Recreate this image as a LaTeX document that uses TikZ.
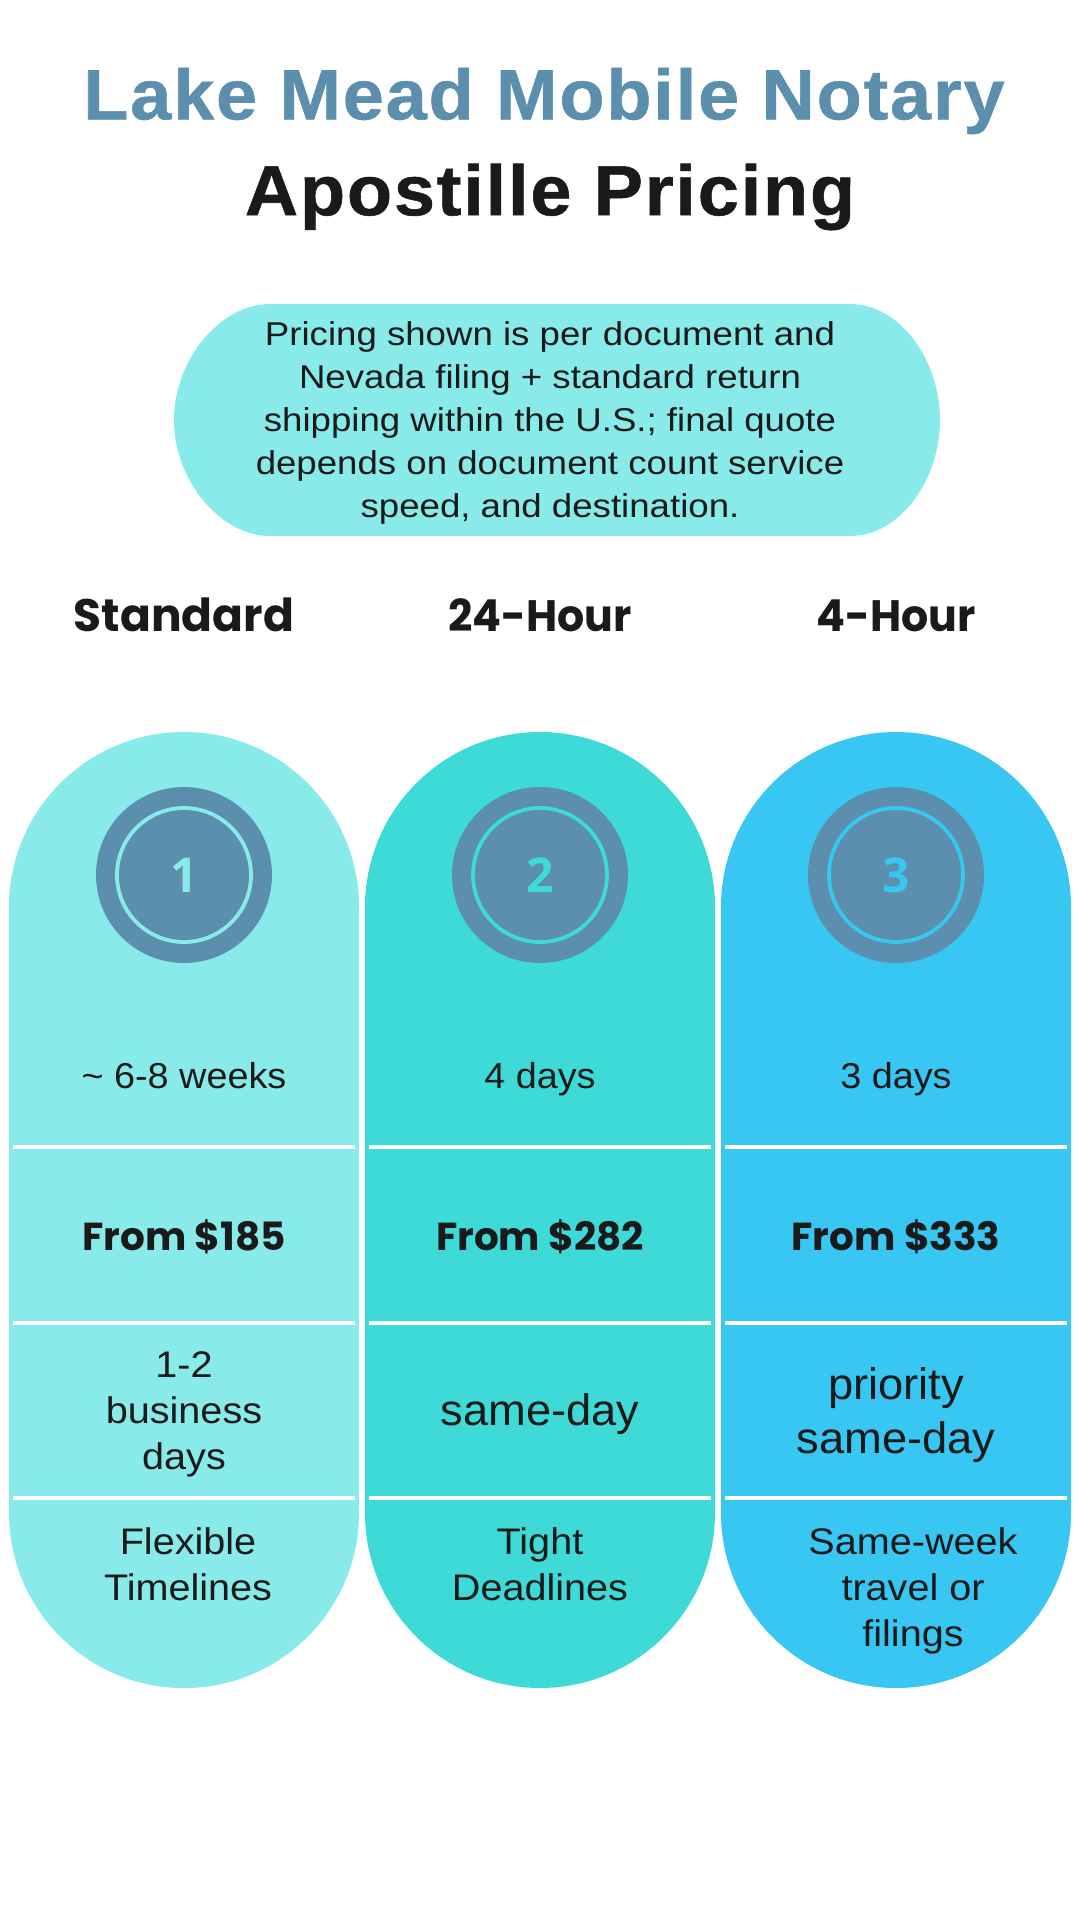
\documentclass[tikz,border=0pt]{standalone}
\usepackage{fontspec}
\setmainfont{Liberation Sans}
\newfontfamily\numfont[BoldFont=*-Bold]{Open Sans}
\newfontfamily\titlefont[LetterSpace=2.6,FakeStretch=1.04,BoldFeatures={FakeBold=0.8}]{Liberation Sans}
\newfontfamily\popbold{Poppins}[UprightFont=*-Bold]
\newfontfamily\popboldn{Poppins}[UprightFont=*-Bold,FakeStretch=0.97]
\newfontfamily\bodyfont[FakeStretch=1.07]{Liberation Sans}
\newfontfamily\singlefont[FakeStretch=1.05]{Liberation Sans}
\newfontfamily\bigfont[FakeStretch=1.03]{Liberation Sans}
\newfontfamily\notefont[FakeStretch=1.11]{Liberation Sans}
\definecolor{inkc}{HTML}{1A1A1A}
\definecolor{slatec}{HTML}{5C8EAD}
\definecolor{palec}{HTML}{88EBE9}
\definecolor{tealc}{HTML}{3DDAD8}
\definecolor{skyc}{HTML}{38C6F2}
\tikzset{
  x=1pt,y=-1pt,
  titletext/.style={font=\titlefont\bfseries\fontsize{71}{71}\selectfont,inner sep=0pt,anchor=center},
  headtext/.style={font=\popbold\fontsize{45.5}{46}\selectfont,text=inkc,inner sep=0pt,anchor=base},
  headtextn/.style={font=\popboldn\fontsize{44}{46}\selectfont,text=inkc,inner sep=0pt,anchor=base},
  pricetext/.style={font=\popbold\fontsize{39}{40}\selectfont,text=inkc,inner sep=0pt,anchor=base},
  bodytext/.style={font=\bodyfont\fontsize{37}{46}\selectfont,text=inkc,inner sep=0pt,align=center},
  singletext/.style={font=\singlefont\fontsize{36}{46}\selectfont,text=inkc,inner sep=0pt,anchor=base},
  bigtext/.style={font=\bigfont\fontsize{44}{54}\selectfont,text=inkc,inner sep=0pt,align=center},
  callouttext/.style={font=\notefont\fontsize{33}{43}\selectfont,text=inkc,inner sep=0pt,align=center},
  rowline/.style={white,line width=4.5pt},
  badgeouter/.style={circle,fill=slatec,minimum size=176pt,inner sep=0pt},
  badgering/.style={circle,fill=slatec,draw=#1,line width=3.8pt,minimum size=134pt,inner sep=0pt,
    font=\numfont\bfseries\fontsize{48}{48}\selectfont,text=#1},
}
\newcommand{\pillpath}[2]{% x-left, colour
  \fill[#2] (#1,907) arc[start angle=180,end angle=360,radius=175] -- ++(0,606) arc[start angle=0,end angle=180,radius=175] -- cycle;
}
\begin{document}
\begin{tikzpicture}
\useasboundingbox (0,0) rectangle (1080,1920);
\fill[white] (0,0) rectangle (1080,1920);
\node[titletext,text=slatec] (t1) at (544,101) {Lake Mead Mobile Notary};
\node[titletext,text=inkc] (t2) at (550,197) {Apostille Pricing};
\fill[palec] (270,304) -- (850,304)
  .. controls (900,304) and (940,360) .. (940,420)
  .. controls (940,480) and (900,536) .. (850,536)
  -- (270,536)
  .. controls (220,536) and (174,480) .. (174,420)
  .. controls (174,360) and (220,304) .. (270,304) -- cycle;
\node[callouttext] (note) at (550,423) {Pricing shown is per document and\\Nevada filing + standard return\\shipping within the U.S.; final quote\\depends on document count service\\speed, and destination.};
\node[headtext] (h1) at (184,631) {Standard};
\node[headtextn] (h2) at (540,631) {24-Hour};
\node[headtextn] (h3) at (896,631) {4-Hour};
\pillpath{9}{palec}
\pillpath{365}{tealc}
\pillpath{721}{skyc}
\foreach \cx/\col/\n in {184/palec/1,540/tealc/2,896/skyc/3}{
  \node[badgeouter] (bo\n) at (\cx,875) {};
  \node[badgering=\col] (br\n) at (\cx,875) {\n};
  \foreach \ly in {1147,1323,1498}
    \draw[rowline] (\cx-171,\ly) -- (\cx+171,\ly);
}
\node[singletext] (a1) at (184,1088) {\textasciitilde{} 6-8 weeks};
\node[singletext] (a2) at (540,1088) {4 days};
\node[singletext] (a3) at (896,1088) {3 days};
\node[pricetext] (p1) at (184,1250) {From \$185};
\node[pricetext] (p2) at (540,1250) {From \$282};
\node[pricetext] (p3) at (896,1250) {From \$333};
\node[bodytext] (c1) at (184,1414) {1-2\\business\\days};
\node[bigtext] (c2) at (540,1414) {same-day};
\node[bigtext] (c3) at (896,1415) {priority\\same-day};
\node[bodytext] (d1) at (188,1564) {Flexible\\Timelines};
\node[bodytext] (d2) at (540,1564) {Tight\\Deadlines};
\node[bodytext] (d3) at (913,1591) {Same-week\\travel or\\filings};
\end{tikzpicture}
\end{document}
